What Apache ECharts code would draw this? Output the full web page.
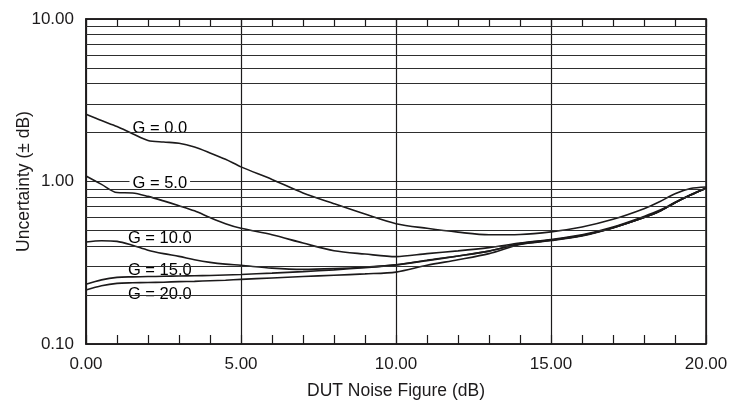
<!DOCTYPE html>
<html>
<head>
<meta charset="utf-8">
<script src="https://cdn.jsdelivr.net/npm/echarts@6/dist/echarts.min.js"></script>
<style>
  html, body { margin: 0; padding: 0; background: #fff; }
  #chart { width: 732px; height: 403px; }
</style>
</head>
<body>
<div id="chart"></div>
<script>
// DUT noise figure (dB), shared x positions for all curves
const noiseFigure = [0, 0.5, 1, 1.5, 2, 2.5, 3, 3.5, 4, 4.5, 5, 6, 7, 8, 9, 10, 11, 12, 13, 14, 15, 16, 17, 18, 18.5, 19, 19.5, 20];
// Uncertainty (± dB) per gain curve
const g0  = [2.59, 2.37, 2.18, 1.97, 1.79, 1.75, 1.72, 1.63, 1.50, 1.37, 1.23, 1.03, 0.85, 0.73, 0.63, 0.55, 0.515, 0.488, 0.470, 0.472, 0.490, 0.525, 0.585, 0.680, 0.750, 0.840, 0.905, 0.925];
const g5  = [1.08, 0.96, 0.855, 0.850, 0.810, 0.760, 0.710, 0.660, 0.600, 0.550, 0.515, 0.470, 0.418, 0.375, 0.358, 0.345, 0.360, 0.374, 0.392, 0.418, 0.440, 0.470, 0.525, 0.610, 0.665, 0.745, 0.830, 0.910];
const g10 = [0.424, 0.432, 0.428, 0.405, 0.378, 0.360, 0.346, 0.330, 0.318, 0.310, 0.305, 0.293, 0.288, 0.291, 0.297, 0.307, 0.328, 0.348, 0.373, 0.415, 0.436, 0.466, 0.520, 0.600, 0.655, 0.740, 0.825, 0.910];
const g15 = [0.233, 0.248, 0.257, 0.259, 0.260, 0.261, 0.262, 0.263, 0.264, 0.266, 0.268, 0.273, 0.279, 0.286, 0.295, 0.307, 0.326, 0.348, 0.373, 0.413, 0.435, 0.465, 0.519, 0.600, 0.655, 0.740, 0.825, 0.910];
const g20 = [0.215, 0.228, 0.236, 0.238, 0.239, 0.240, 0.242, 0.243, 0.245, 0.247, 0.250, 0.255, 0.260, 0.265, 0.270, 0.277, 0.305, 0.330, 0.360, 0.410, 0.433, 0.463, 0.518, 0.600, 0.655, 0.740, 0.825, 0.910];
const curveNames = ['G = 0.0', 'G = 5.0', 'G = 10.0', 'G = 15.0', 'G = 20.0'];
// label anchor points [noise figure, uncertainty]
const labelAnchors = [[2.38, 2.12], [2.38, 0.975], [2.38, 0.447], [2.38, 0.285], [2.38, 0.201]];
// horizontal grid values (log minor lines)
const gridValues = [0.2, 0.3, 0.4, 0.5, 0.6, 0.7, 0.8, 0.9, 2, 3, 4, 5, 6, 7, 8, 9];
// axis tick settings
const xMin = 0, xMax = 20, xStep = 5;
const yMin = 0.1, yMax = 10;

const ink = '#1c1a1b';
const gridInk = '#2e2e2e';
const font = 'Liberation Sans, Arial, Helvetica, sans-serif';

const curves = [g0, g5, g10, g15, g20];
const chart = echarts.init(document.getElementById('chart'), null, { renderer: 'canvas' });

const series = [
  {
    type: 'line',
    name: 'grid',
    data: [],
    z: 1,
    silent: true,
    markLine: {
      silent: true,
      symbol: 'none',
      animation: false,
      label: { show: false },
      lineStyle: { type: 'solid', color: gridInk, width: 1.1 },
      emphasis: { disabled: true },
      data: gridValues.map(v => ({ yAxis: v }))
    }
  },
  {
    type: 'scatter',
    name: 'labels',
    z: 2,
    silent: true,
    symbolSize: 0,
    itemStyle: { color: '#fff', opacity: 1 },
    emphasis: { disabled: true },
    data: labelAnchors.map((p, i) => ({ value: p, name: curveNames[i] })),
    label: {
      show: true,
      position: [0, 0],
      align: 'center',
      verticalAlign: 'middle',
      formatter: p => p.name,
      fontFamily: font,
      fontSize: 16.5,
      lineHeight: 15,
      color: '#000',
      opacity: 1,
      textBorderWidth: 0,
      backgroundColor: '#fff',
      padding: [0, 3]
    }
  }
];
curves.forEach((c, i) => {
  series.push({
    type: 'line',
    name: curveNames[i],
    z: 3,
    silent: true,
    smooth: 0.3,
    showSymbol: false,
    symbol: 'none',
    lineStyle: { color: ink, width: 1.6 },
    data: noiseFigure.map((x, k) => [x, c[k]])
  });
});

chart.setOption({
  animation: false,
  backgroundColor: '#fff',
  grid: {
    left: 86, right: 26, top: 19, bottom: 59,
    outerBoundsMode: 'none', containLabel: false,
    show: true, borderColor: ink, borderWidth: 1.5, backgroundColor: 'transparent'
  },
  xAxis: [
    {
      type: 'value', min: xMin, max: xMax, interval: xStep, position: 'bottom',
      name: 'DUT Noise Figure (dB)', nameLocation: 'middle', nameGap: 38, nameMoveOverlap: false,
      nameTextStyle: { fontFamily: font, fontSize: 17.5, color: ink },
      axisLine: { show: true, lineStyle: { color: ink, width: 1.5 } },
      axisTick: { show: true, inside: true, length: 9, lineStyle: { color: ink, width: 1.2 } },
      minorTick: { show: true, splitNumber: 5, length: 9, lineStyle: { color: ink, width: 1.2 } },
      axisLabel: { fontFamily: font, fontSize: 17, color: ink, margin: 12, formatter: v => v.toFixed(2) },
      splitLine: { show: true, lineStyle: { color: ink, width: 1.2 } }
    },
    {
      type: 'value', min: xMin, max: xMax, interval: xStep, position: 'top',
      axisLine: { show: true, lineStyle: { color: ink, width: 1.5 } },
      axisTick: { show: true, inside: true, length: 8, lineStyle: { color: ink, width: 1.2 } },
      minorTick: { show: true, splitNumber: 5, length: 8, lineStyle: { color: ink, width: 1.2 } },
      axisLabel: { show: false },
      splitLine: { show: false }
    }
  ],
  yAxis: {
    type: 'log', logBase: 10, min: yMin, max: yMax,
    name: 'Uncertainty (± dB)', nameLocation: 'middle', nameGap: 53, nameMoveOverlap: false,
    nameTextStyle: { fontFamily: font, fontSize: 17.5, color: ink },
    axisLine: { show: true, lineStyle: { color: ink, width: 1.5 } },
    axisTick: { show: false },
    minorTick: { show: false },
    axisLabel: { fontFamily: font, fontSize: 17, color: ink, margin: 12, formatter: v => Number(v).toFixed(2) },
    splitLine: { show: true, lineStyle: { color: gridInk, width: 1.1 } }
  },
  series: series
});
</script>
</body>
</html>
